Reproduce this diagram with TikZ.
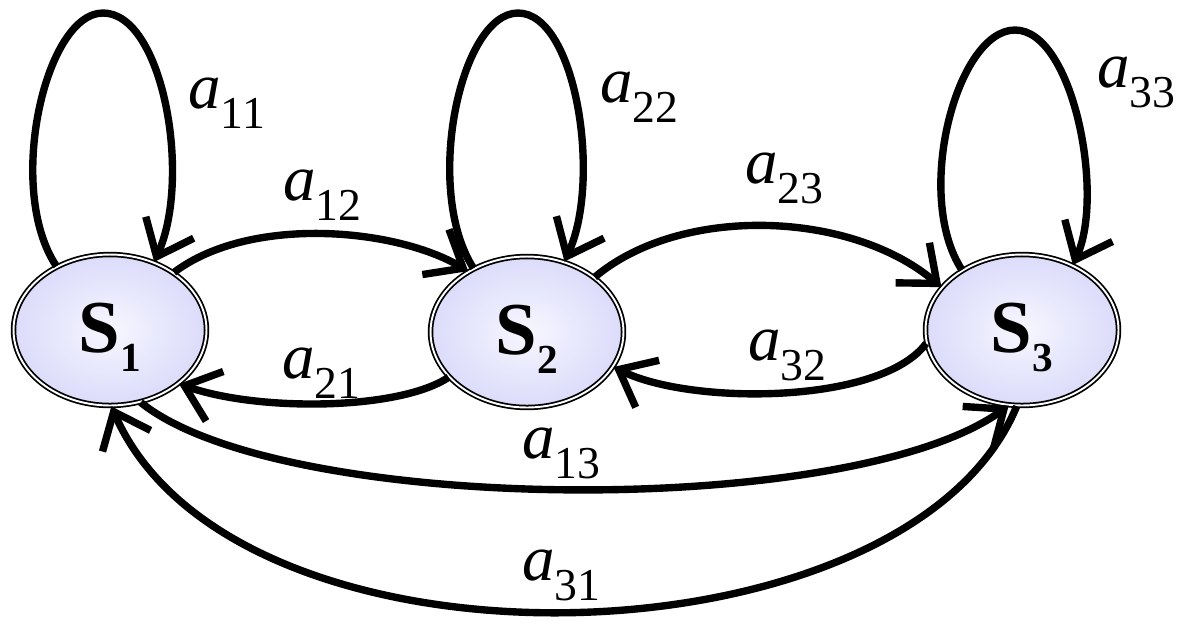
\documentclass[tikz,border=0pt]{standalone}
\usepackage{fontspec}
\setmainfont{Liberation Serif}
\usetikzlibrary{arrows.meta,shapes.geometric}
\pgfdeclareradialshading{stateglow}{\pgfpoint{0bp}{0bp}}{rgb(0bp)=(0.97,0.97,1);rgb(15bp)=(0.9,0.9,0.99);rgb(50bp)=(0.77,0.77,0.97)}
\newcommand{\trans}[1]{\textit{a}\raisebox{-0.4cm}{\fontsize{26pt}{26pt}\selectfont #1}}
\newcommand{\stname}[1]{\raisebox{-0.14cm}[\height][\depth]{\textbf{S}\raisebox{-0.38cm}{\fontsize{23.5pt}{23.5pt}\selectfont\bfseries #1}}}

\begin{document}
\begin{tikzpicture}[x=0.02cm,y=-0.02cm,>={Straight Barb[length=0.64cm,width=1.05cm]},state/.style={ellipse, draw=black, double=white, line width=1pt, double distance=1.1pt, shading=stateglow, minimum width=3.86cm, minimum height=3.02cm, inner sep=0pt, font=\fontsize{42.5pt}{42.5pt}\selectfont},edge/.style={->, line width=4.2pt},lab/.style={anchor=base west, inner sep=0pt, font=\fontsize{37pt}{37pt}\selectfont}]
\useasboundingbox (0,0) rectangle (1177,627);
\node[state] (s1) at (110,330) {\stname{1}};
\node[state] (s2) at (527,332) {\stname{2}};
\node[state] (s3) at (1022,330) {\stname{3}};
\coordinate (t1) at (103,13); \coordinate (t2) at (518,13); \coordinate (t3) at (1015,30);
% self loops
\draw[edge] (s1.130) .. controls (5,190) and (45,13) .. (t1) .. controls (163,13) and (192,178) .. (s1.57);
\draw[edge] (s2.130) .. controls (423,190) and (460,13) .. (t2) .. controls (576,13) and (602,180) .. (s2.62);
\draw[edge] (s3.135) .. controls (913,195) and (957,30) .. (t3) .. controls (1073,30) and (1105,195) .. (s3.52);
% transitions between states
\draw[edge] (s1.42) .. controls (250,215) and (395,228) .. (s2.134);
\draw[edge] (s2.210) .. controls (400,410) and (260,412) .. (s1.322);
\draw[edge] (s2.39) .. controls (680,205) and (850,210) .. (s3.152);
\draw[edge] (s3.188) .. controls (880,405) and (690,405) .. (s2.338);
\draw[edge] (s1.293) .. controls (280,515) and (850,520) .. (s3.260);
\draw[edge] (s3.266) .. controls (908,670) and (236,690) .. (s1.271);
\node[lab] (l11) at (188,108) {\trans{11}};
\node[lab] (l22) at (600,102) {\trans{22}};
\node[lab] (l33) at (1097,87) {\trans{33}};
\node[lab] (l12) at (283,200) {\trans{12}};
\node[lab] (l21) at (282,378) {\trans{21}};
\node[lab] (l23) at (745,183) {\trans{23}};
\node[lab] (l32) at (748,360) {\trans{32}};
\node[lab] (l13) at (522,458) {\trans{13}};
\node[lab] (l31) at (522,580) {\trans{31}};
\end{tikzpicture}
\end{document}
